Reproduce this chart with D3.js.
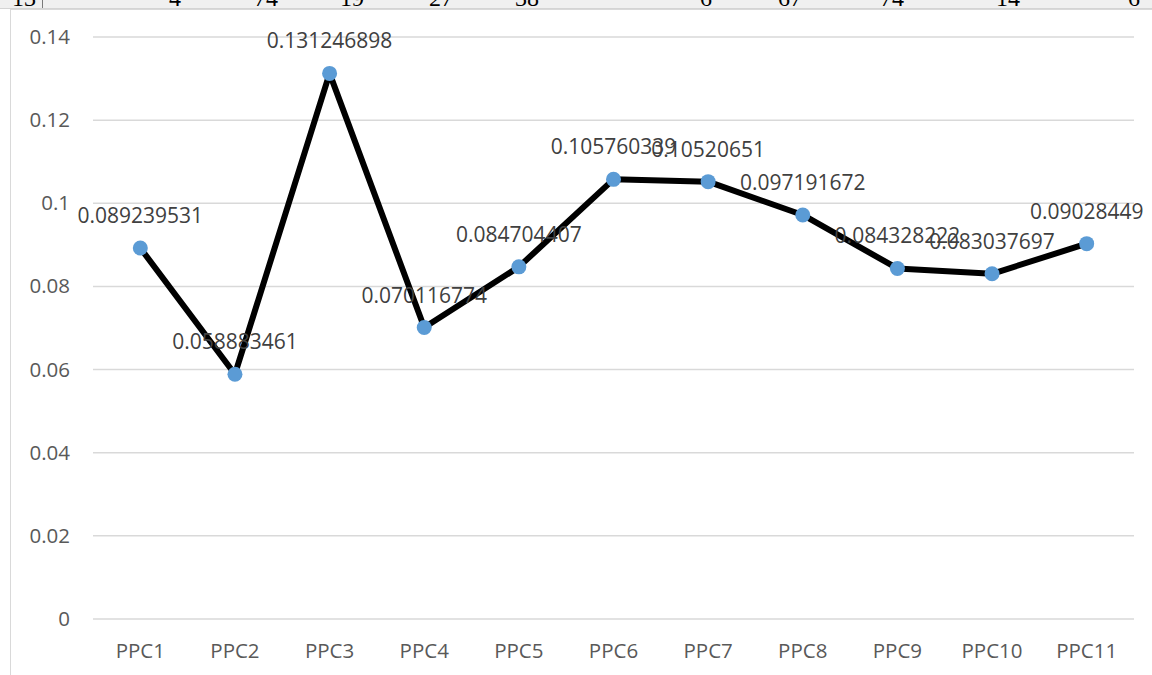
<!DOCTYPE html>
<html>
<head>
<meta charset="utf-8">
<script src="https://cdn.jsdelivr.net/npm/d3@7"></script>
<style>
  html, body { margin: 0; padding: 0; background: #ffffff; }
  svg { display: block; }
</style>
</head>
<body>
<div id="chart"></div>
<script>
// Category names and their values
const categories = ["PPC1", "PPC2", "PPC3", "PPC4", "PPC5", "PPC6", "PPC7", "PPC8", "PPC9", "PPC10", "PPC11"];
const values = [0.089239531, 0.058883461, 0.131246898, 0.070116774, 0.084704407, 0.105760339,
                0.10520651, 0.097191672, 0.084328222, 0.083037697, 0.09028449];
const labels = ["0.089239531", "0.058883461", "0.131246898", "0.070116774", "0.084704407", "0.105760339",
                "0.10520651", "0.097191672", "0.084328222", "0.083037697", "0.09028449"];
const yTicks = [0, 0.02, 0.04, 0.06, 0.08, 0.1, 0.12, 0.14];

// Spreadsheet row peeking out above the chart
const rowHeader = "13";
const rowCells = ["4", "74", "19", "27", "38", "6", "67", "74", "14", "6"];
const rowCellRight = [181, 278, 364, 453, 539, 712, 802, 904, 1020, 1140];

const W = 1152, H = 675;
const svg = d3.select("#chart").append("svg").attr("width", W).attr("height", H);

// Row strip
svg.append("rect").attr("x", 0).attr("y", 0).attr("width", W).attr("height", 8).attr("fill", "#f0f0f0");
svg.append("line").attr("x1", 0).attr("x2", W).attr("y1", 8.5).attr("y2", 8.5).attr("stroke", "#d4d4d4").attr("stroke-width", 1);
svg.append("line").attr("x1", 42.5).attr("x2", 42.5).attr("y1", 0).attr("y2", 8).attr("stroke", "#7a7a7a").attr("stroke-width", 1);
svg.append("clipPath").attr("id", "rowclip").append("rect").attr("x", 0).attr("y", 0).attr("width", W).attr("height", 8);
const row = svg.append("g").attr("clip-path", "url(#rowclip)")
  .style("font-family", "'Liberation Serif', serif").style("font-size", "24px").attr("fill", "#000");
row.append("text").attr("x", 36).attr("y", 6).attr("text-anchor", "end").text(rowHeader);
row.selectAll("text.cell").data(rowCells).join("text").attr("class", "cell")
  .attr("x", (d, i) => rowCellRight[i]).attr("y", 6).attr("text-anchor", "end").text(d => d);

// Chart frame
svg.append("rect").attr("x", 10.5).attr("y", 9.5).attr("width", W + 10).attr("height", H + 10)
  .attr("fill", "#ffffff").attr("stroke", "#d9d9d9").attr("stroke-width", 1);

const plot = { left: 93, right: 1134, top: 37, bottom: 619 };

const x = d3.scaleBand().domain(categories).range([plot.left, plot.right]).paddingInner(0).paddingOuter(0);
const y = d3.scaleLinear().domain([0, 0.14]).range([plot.bottom, plot.top]);

const font = "'Open Sans', 'Liberation Sans', sans-serif";

// Gridlines
svg.append("g").selectAll("line").data(yTicks).join("line")
  .attr("x1", plot.left).attr("x2", plot.right)
  .attr("y1", d => y(d)).attr("y2", d => y(d))
  .attr("stroke", "#d9d9d9").attr("stroke-width", 1.5);

// Y axis labels
const yAxis = d3.axisLeft(y).tickValues(yTicks).tickSize(0).tickPadding(0)
  .tickFormat(d => d3.format("~g")(d));
const yg = svg.append("g").attr("transform", `translate(${plot.left - 23},0)`).call(yAxis);
yg.select(".domain").remove();
yg.selectAll("text").style("font-family", font).style("font-size", "20.5px").attr("fill", "#595959");

// X axis labels
const xAxis = d3.axisBottom(x).tickSize(0).tickPadding(0);
const xg = svg.append("g").attr("transform", `translate(0,${plot.bottom + 24})`).call(xAxis);
xg.select(".domain").remove();
xg.selectAll("text").style("font-family", font).style("font-size", "20.5px").attr("fill", "#595959");

const cx = c => x(c) + x.bandwidth() / 2;

// Line
const line = d3.line().x((d, i) => cx(categories[i])).y(d => y(d));
svg.append("path").datum(values).attr("d", line)
  .attr("fill", "none").attr("stroke", "#000000").attr("stroke-width", 6)
  .attr("stroke-linejoin", "round").attr("stroke-linecap", "round");

// Markers
svg.append("g").selectAll("circle").data(values).join("circle")
  .attr("cx", (d, i) => cx(categories[i])).attr("cy", d => y(d)).attr("r", 7.5)
  .attr("fill", "#5b9bd5");

// Data labels
svg.append("g").selectAll("text").data(values).join("text")
  .attr("x", (d, i) => cx(categories[i])).attr("y", d => y(d) - 25)
  .attr("text-anchor", "middle")
  .style("font-family", font).style("font-size", "21px").attr("fill", "#404040")
  .text((d, i) => labels[i]);
</script>
</body>
</html>
